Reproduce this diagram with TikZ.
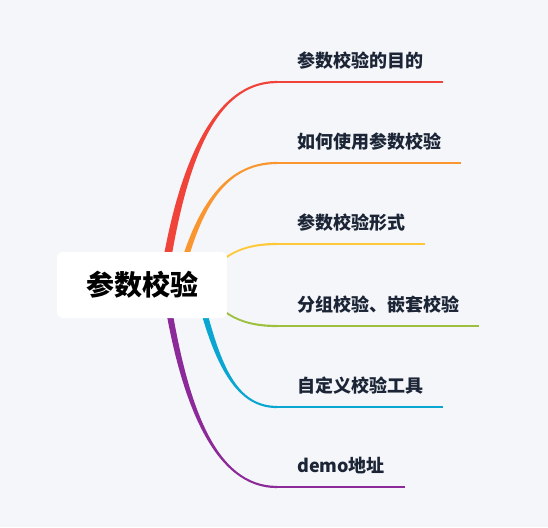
\documentclass[tikz,border=0pt]{standalone}
\usepackage{fontspec}
\usetikzlibrary{calc,positioning}
\newfontfamily\cjk{Noto Sans CJK SC}
\definecolor{MapBg}{HTML}{F5F6FA}
\definecolor{MapInk}{HTML}{1B2536}
\definecolor{MapRed}{HTML}{F0443A}
\definecolor{MapOrange}{HTML}{F9962F}
\definecolor{MapYellow}{HTML}{FFC839}
\definecolor{MapGreen}{HTML}{9DC03F}
\definecolor{MapCyan}{HTML}{08A6D0}
\definecolor{MapPurple}{HTML}{8B2A98}
\newcommand\mapbranch[5]{%
  \fill[#1] let \p1=(#2), \p2=(#3), \n1={sign(\y2-\y1)} in
    (\x1-#4,\y1) .. controls (\x1+18-#4,{\y1+0.6*(\y2-\y1)}) and ({\x1+0.45*(\x2-\x1)},{\y2+\n1*#5}) .. (\x2,{\y2+\n1*#5})
    -- (\x2,{\y2-\n1*#5}) .. controls ({\x1+0.45*(\x2-\x1)},{\y2-\n1*#5}) and (\x1+18+#4,{\y1+0.6*(\y2-\y1)}) .. (\x1+#4,\y1)
    -- cycle;}

\begin{document}
\begin{tikzpicture}[x=1pt,y=-1pt,
    topic/.style={fill=white,rounded corners=6pt,minimum width=170pt,minimum height=66pt,
      text=black,font=\cjk\bfseries\fontsize{28}{32}\selectfont},
    subtopic/.style={anchor=base west,inner xsep=20pt,inner ysep=0pt,
      text=MapInk,font=\cjk\bfseries\fontsize{18}{21}\selectfont}]
  \fill[MapBg] (0,0) rectangle (548,527);
  \useasboundingbox (0,0) rectangle (548,527);

  \coordinate (hub) at (142,285);
  \foreach \i/\col/\dx/\uy/\w in {1/MapRed/21/82/4,2/MapOrange/36/163/3.2,3/MapYellow/58/244/1.8,
      4/MapGreen/58/326/1.8,5/MapCyan/55/407/3.2,6/MapPurple/23/487/3.2}{
    \coordinate (u\i) at (277,\uy);
    \coordinate (s\i) at ($(hub)+(\dx,0)$);
    \mapbranch{\col}{s\i}{u\i}{\w}{1.1}
  }

  \node[topic] (root) at (hub) {参数校验};

  \foreach \i/\col/\txt in {1/MapRed/参数校验的目的,2/MapOrange/如何使用参数校验,3/MapYellow/参数校验形式,
      4/MapGreen/分组校验、嵌套校验,5/MapCyan/自定义校验工具,6/MapPurple/demo地址}{
    \node[subtopic] (c\i) at ($(u\i)+(0,-15)$) {\txt};
    \draw[\col,line width=2.2pt] (u\i) -- (u\i -| c\i.east);
  }
\end{tikzpicture}
\end{document}
